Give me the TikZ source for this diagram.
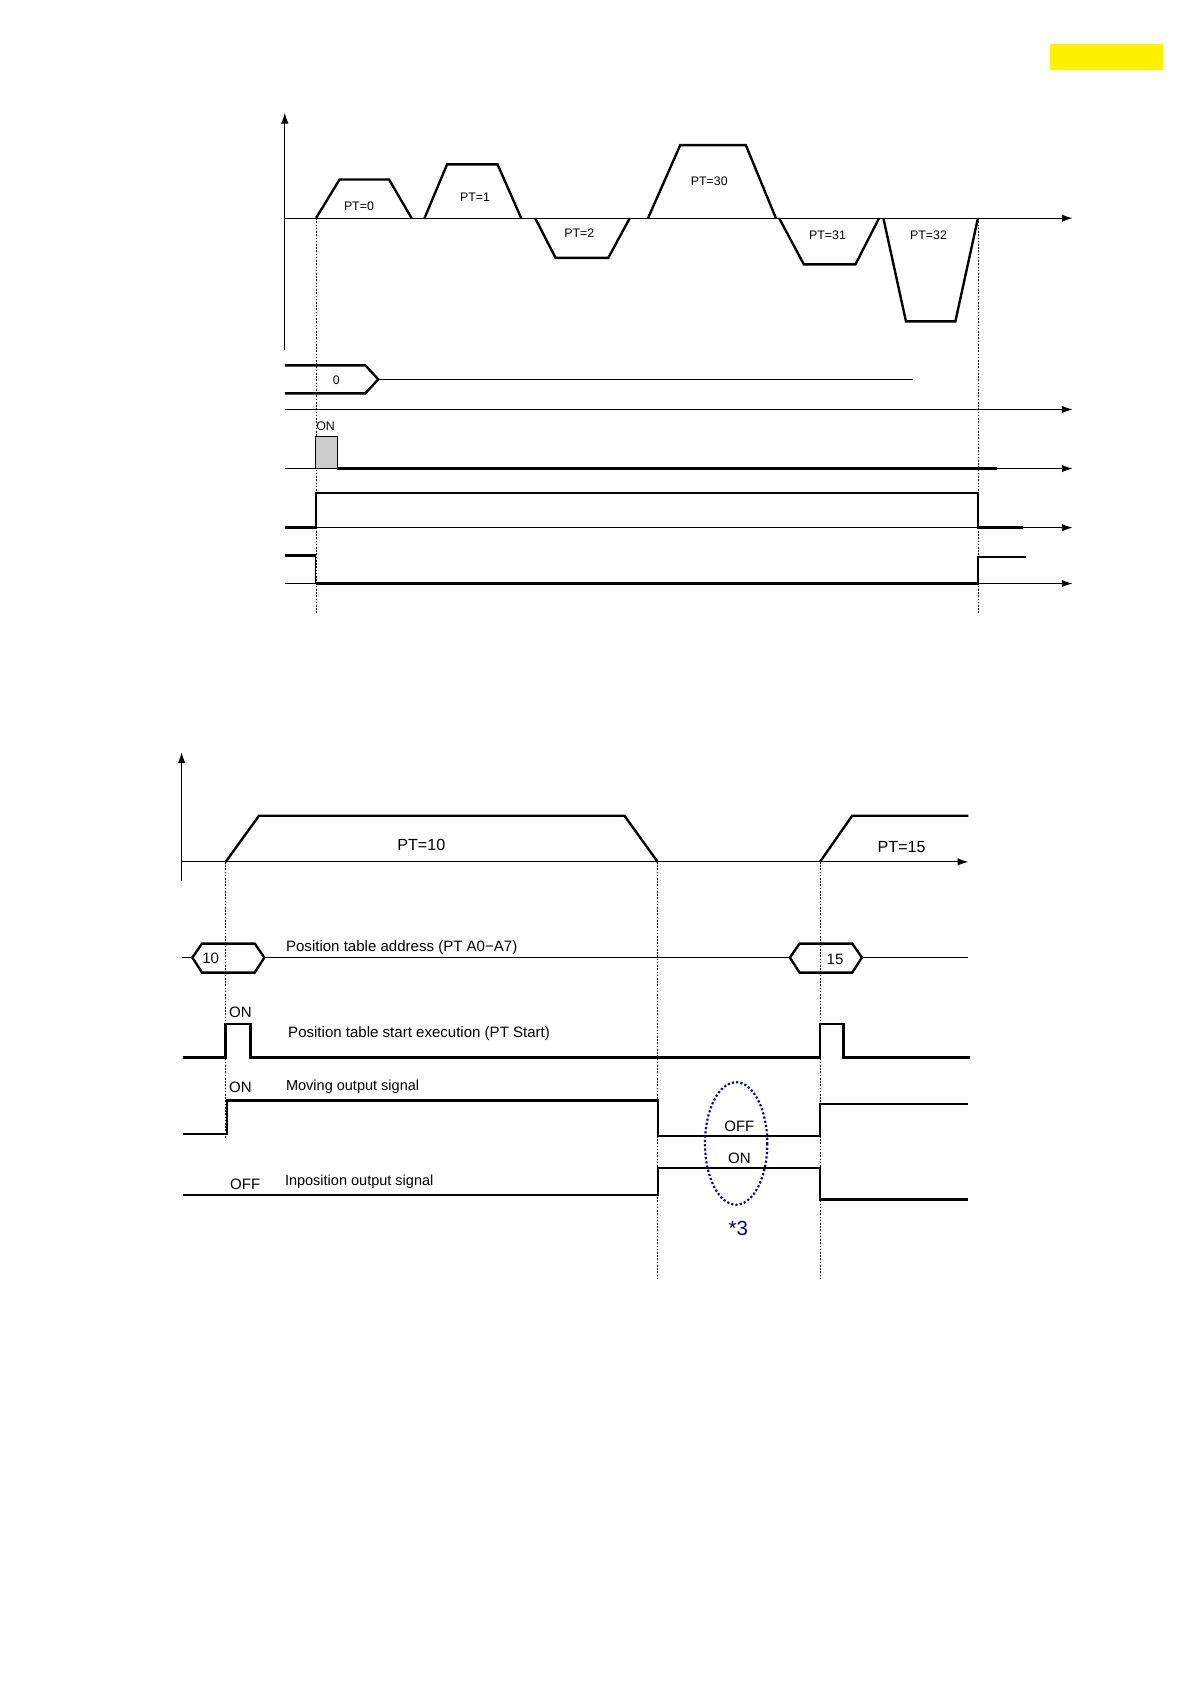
\documentclass[tikz,border=0pt]{standalone}
\usepackage{fontspec}
\setmainfont{Liberation Sans}
\usetikzlibrary{arrows.meta}
\begin{document}
\begin{tikzpicture}[x=1pt,y=-1pt,
  sig/.style={line width=2.2pt,line join=miter},
  thin/.style={line width=0.9pt},
  ax/.style={line width=0.9pt,-{Latex[length=10pt,width=7pt]}},
  dot/.style={line width=0.7pt,dash pattern=on 1.5pt off 1.5pt},
  lbl/.style={inner sep=1pt,font=\fontsize{11.5}{12}\selectfont},
  lbs/.style={inner sep=1pt,font=\fontsize{14}{15}\selectfont,anchor=west}]
\useasboundingbox (0,0) rectangle (1108,1567);
\fill[yellow] (977,41) rectangle (1082,65);
% ---- top diagram
\draw[ax] (265,326) -- (265,105);
\draw[ax] (265,203) -- (998,203);
\draw[sig] (294,203)--(316,167)--(362,167)--(383,203);
\node[lbl] (p0) at (334,192) {PT=0};
\draw[sig] (395,203)--(416,153)--(463,153)--(485,203);
\node[lbl] (p1) at (442,184) {PT=1};
\draw[sig] (498,203)--(517,240)--(566,240)--(586,203);
\node[lbl] (p2) at (539,217) {PT=2};
\draw[sig] (603,203)--(633,135)--(694,135)--(722,203);
\node[lbl] (p30) at (660,169) {PT=30};
\draw[sig] (725,203)--(748,246)--(796,246)--(818,203);
\node[lbl] (p31) at (770,219) {PT=31};
\draw[sig] (822,203)--(843,299)--(889,299)--(910,203);
\node[lbl] (p32) at (864,219) {PT=32};
\draw[dot] (294,203)--(294,570);
\draw[dot] (910,203)--(910,570);
\draw[sig] (265,340)--(340,340)--(352,353)--(340,366)--(265,366);
\node[lbl] (a0) at (313,354) {0};
\draw[thin] (352,353)--(850,353);
\draw[ax] (265,381)--(998,381);
\node[lbl] (on1) at (303,397) {ON};
\draw[thin,fill=gray!40] (294,436) rectangle (314,406);
\draw[thin] (265,436)--(294,436);
\draw[sig] (314,436)--(928,436);
\draw[ax] (928,436)--(998,436);
\draw[sig] (265,491)--(294,491)--(294,459)--(910,459)--(910,491)--(952,491);
\draw[ax] (265,491)--(998,491);
\draw[sig] (265,517)--(294,517);
\draw[thin] (294,517)--(294,543);
\draw[sig] (294,543)--(910,543)--(910,518)--(955,518);
\draw[ax] (265,543)--(998,543);
% ---- bottom diagram
\draw[ax] (169,820) -- (169,700);
\draw[ax] (169,802) -- (901,802);
\draw[sig] (210,802)--(241,759)--(581,759)--(612,802);
\node[lbl,font=\fontsize{15}{16}\selectfont] (p10) at (392,786) {PT=10};
\draw[sig] (763,802)--(793,759)--(901,759);
\node[lbl,font=\fontsize{15}{16}\selectfont] (p15) at (839,788) {PT=15};
\draw[dot] (210,802)--(210,1060);
\draw[dot] (612,802)--(612,1190);
\draw[dot] (763,802)--(763,1190);
\draw[sig] (179,891)--(188,878)--(237,878)--(246,891)--(237,905)--(188,905)--cycle;
\node[lbl,font=\fontsize{14}{15}\selectfont] (h10) at (196,892) {10};
\draw[thin] (169,891)--(179,891);
\draw[thin] (246,891)--(735,891);
\draw[sig] (735,891)--(744,878)--(793,878)--(802,891)--(793,905)--(744,905)--cycle;
\node[lbl,font=\fontsize{14}{15}\selectfont] (h15) at (777,893) {15};
\draw[thin] (802,891)--(901,891);
\node[lbs] (t1) at (265,882) {Position table address (PT A0−A7)};
\draw[sig] (170,984)--(210,984)--(210,953)--(233,953)--(233,984)--(763,984)--(763,953)--(785,953)--(785,984)--(903,984);
\node[lbs] (on2) at (212,942) {ON};
\node[lbs] (t2) at (267,962) {Position table start execution (PT Start)};
\draw[sig] (170,1055)--(211,1055)--(211,1024)--(612,1024)--(612,1057)--(763,1057)--(763,1027)--(901,1027);
\node[lbs] (on3) at (212,1012) {ON};
\node[lbs,font=\fontsize{13.5}{14}\selectfont] (t3) at (265,1011) {Moving output signal};
\draw[sig] (170,1112)--(612,1112)--(612,1087)--(763,1087)--(763,1116)--(901,1116);
\node[lbs] (off1) at (213,1102) {OFF};
\node[lbs,font=\fontsize{13.5}{14}\selectfont] (t4) at (264,1100) {Inposition output signal};
\draw[line width=2pt,dotted,blue!60!black] (685,1064) ellipse [x radius=29,y radius=57];
\node[lbl,font=\fontsize{14}{15}\selectfont] (off2) at (688,1048) {OFF};
\node[lbl,font=\fontsize{14}{15}\selectfont] (on4) at (688,1078) {ON};
\node[lbl,font=\fontsize{19}{20}\selectfont,text=blue!50!black] (s3) at (687,1143) {*3};
\end{tikzpicture}
\end{document}
